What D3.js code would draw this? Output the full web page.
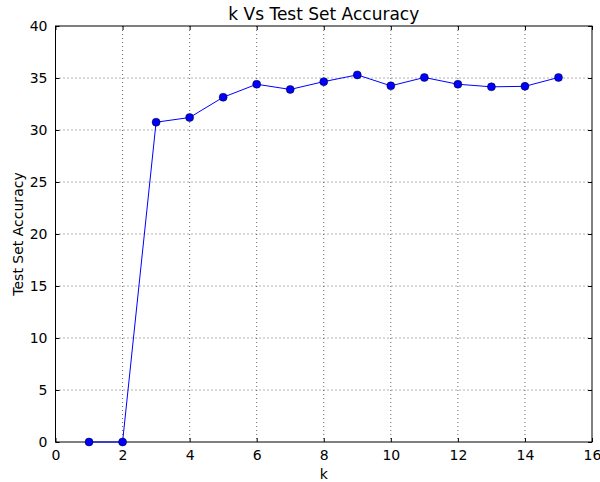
<!DOCTYPE html>
<html>
<head>
<meta charset="utf-8">
<script src="https://cdn.jsdelivr.net/npm/d3@7"></script>
<style>
  body { margin: 0; background: #fff; }
  text { font-family: "DejaVu Sans", sans-serif; fill: #000; }
</style>
</head>
<body>
<div id="chart"></div>
<script>
const kValues = [1, 2, 3, 4, 5, 6, 7, 8, 9, 10, 11, 12, 13, 14, 15];
const accuracy = [0, 0, 30.75, 31.2, 33.15, 34.4, 33.9, 34.65, 35.3, 34.25, 35.05, 34.4, 34.15, 34.2, 35.05];
const xTicks = [0, 2, 4, 6, 8, 10, 12, 14, 16];
const yTicks = [0, 5, 10, 15, 20, 25, 30, 35, 40];

const width = 600, height = 482;
const margin = { top: 26, right: 8, bottom: 40, left: 55.5 };
const w = width - margin.left - margin.right,
      h = height - margin.top - margin.bottom;

const svg = d3.select('#chart').append('svg')
    .attr('width', width)
    .attr('height', height);

const g = svg.append('g')
    .attr('transform', 'translate(' + margin.left + ',' + margin.top + ')');

const x = d3.scaleLinear().domain([0, 16]).range([0, w]);
const y = d3.scaleLinear().domain([0, 40]).range([h, 0]);

// grid
g.append('g').selectAll('line').data(xTicks.slice(1, -1)).enter().append('line')
    .attr('x1', d => x(d)).attr('x2', d => x(d))
    .attr('y1', 0).attr('y2', h)
    .attr('stroke', '#000').attr('stroke-width', 0.6)
    .attr('stroke-dasharray', '1,3');
g.append('g').selectAll('line').data(yTicks.slice(1, -1)).enter().append('line')
    .attr('y1', d => y(d)).attr('y2', d => y(d))
    .attr('x1', 0).attr('x2', w)
    .attr('stroke', '#000').attr('stroke-width', 0.6)
    .attr('stroke-dasharray', '1,3');

// axes (ticks point inward)
const xAxis = g.append('g').attr('transform', 'translate(0,' + h + ')')
    .call(d3.axisBottom(x).tickValues(xTicks).tickSizeInner(-4).tickSizeOuter(0).tickPadding(8));
const xTop = g.append('g')
    .call(d3.axisTop(x).tickValues(xTicks).tickSizeInner(-4).tickSizeOuter(0).tickFormat(''));
const yAxis = g.append('g')
    .call(d3.axisLeft(y).tickValues(yTicks).tickSizeInner(-4).tickSizeOuter(0).tickPadding(8));
const yRight = g.append('g').attr('transform', 'translate(' + w + ',0)')
    .call(d3.axisRight(y).tickValues(yTicks).tickSizeInner(-4).tickSizeOuter(0).tickFormat(''));

[xAxis, xTop, yAxis, yRight].forEach(a => {
  a.select('.domain').remove();
  a.selectAll('text').style('font-size', '14px').style('font-family', '"DejaVu Sans", sans-serif');
  a.selectAll('line').attr('stroke', '#000');
});

g.append('rect')
    .attr('width', w).attr('height', h)
    .attr('fill', 'none').attr('stroke', '#000').attr('stroke-width', 1);

// data
const data = kValues.map((k, i) => ({ k: k, v: accuracy[i] }));
const line = d3.line().x(d => x(d.k)).y(d => y(d.v));

g.append('path').datum(data)
    .attr('d', line)
    .attr('fill', 'none')
    .attr('stroke', '#0000ff')
    .attr('stroke-width', 1);

g.selectAll('.dot').data(data).enter().append('circle')
    .attr('class', 'dot')
    .attr('cx', d => x(d.k))
    .attr('cy', d => y(d.v))
    .attr('r', 4)
    .attr('fill', '#0000ff')
    .attr('stroke', '#000')
    .attr('stroke-width', 0.5);

// labels
svg.append('text')
    .attr('x', margin.left + w / 2).attr('y', 20)
    .attr('text-anchor', 'middle')
    .style('font-size', '17px')
    .text('k Vs Test Set Accuracy');

svg.append('text')
    .attr('x', margin.left + w / 2).attr('y', 479)
    .attr('text-anchor', 'middle')
    .style('font-size', '14px')
    .text('k');

svg.append('text')
    .attr('transform', 'translate(23,' + (margin.top + h / 2) + ') rotate(-90)')
    .attr('text-anchor', 'middle')
    .style('font-size', '14px')
    .text('Test Set Accuracy');
</script>
</body>
</html>
